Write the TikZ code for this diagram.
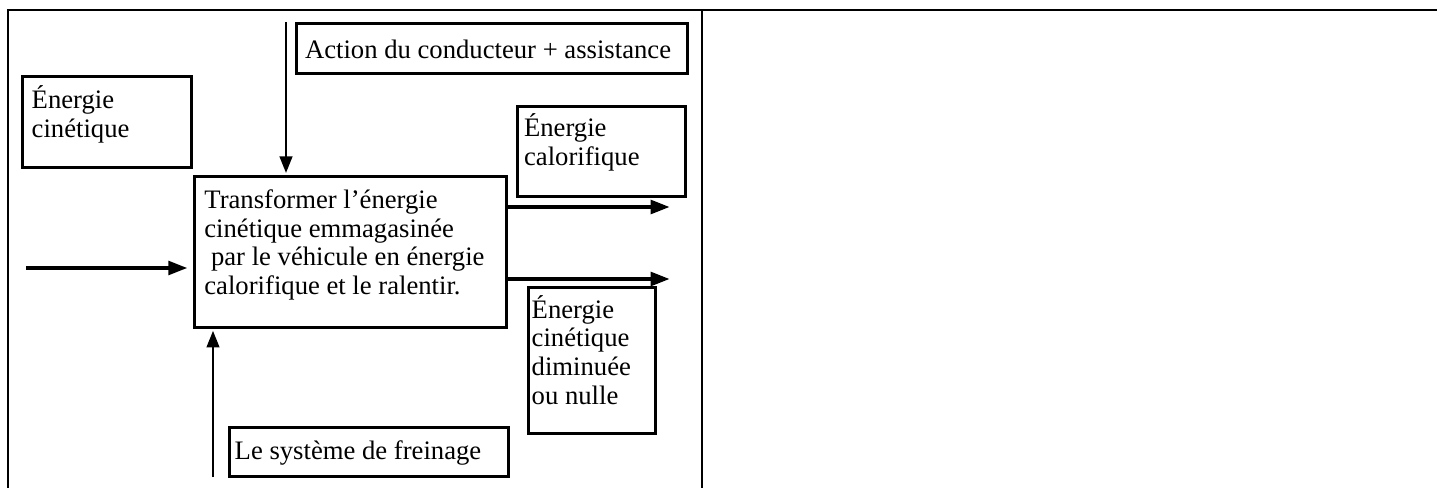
\documentclass[tikz,border=0pt]{standalone}
\usepackage{fontspec}
\setmainfont{Liberation Serif}
\usetikzlibrary{arrows.meta}
% \bx{width}{height}{first baseline}{left offset}{text}
\newcommand\bx[5]{\parbox[c][#2][t]{#1}{\leftskip=#4\relax\rightskip=0pt plus 1fil\parindent=0pt\rule{0pt}{#3}#5}}
\begin{document}
\begin{tikzpicture}[x=0.75pt,y=-0.75pt,
  box/.style={draw,line width=2.1pt,inner sep=0pt,anchor=north west},
  thinarrow/.style={line width=1.8pt,-{Triangle[length=12.5pt,width=9.5pt]}},
  thickarrow/.style={line width=3.2pt,-{Triangle[length=14.5pt,width=10pt]}},
  frame/.style={line width=2pt},
  every node/.style={font=\fontsize{20pt}{21.5pt}\selectfont}]
\useasboundingbox (0,0) rectangle (1437,488);
% frame
\draw[frame] (7,10) -- (1437,10);
\draw[frame] (8,10) -- (8,488);
\draw[line width=1.3pt] (702,10) -- (702,488);
% boxes
\node[box] (ec) at (21,75) {\bx{126.75pt}{68.25pt}{24pt}{7pt}{Énergie\\cinétique}};
\node[box] (act) at (295,22) {\bx{293.25pt}{37.5pt}{26pt}{6.5pt}{Action du conducteur + assistance}};
\node[box] (main) at (193,175) {\bx{234pt}{113.25pt}{24pt}{7.5pt}{Transformer l’énergie\\cinétique emmagasinée\\\hspace*{0.25em}par le véhicule en énergie\\calorifique et le ralentir.}};
\node[box] (cal) at (516,105) {\bx{126pt}{67.5pt}{22.5pt}{5pt}{Énergie\\calorifique}};
\node[box] (dim) at (527,286) {\bx{95.25pt}{109.5pt}{23pt}{2.5pt}{Énergie\\cinétique\\diminuée\\ou nulle}};
\node[box] (frein) at (228,426) {\bx{209.25pt}{36.75pt}{24pt}{4pt}{Le système de freinage}};
% connectors
\coordinate (dtop) at (286,22);
\draw[thinarrow,shorten >=1.5pt] (dtop) -- (dtop |- main.north);
\coordinate (ubot) at (213,477);
\draw[thinarrow,shorten >=1.5pt] (ubot) -- (ubot |- main.south);
\coordinate (lin) at (26,268);
\draw[thickarrow,shorten >=4pt] (lin) -- (lin -| main.west);
\coordinate (o1) at (670,207);
\coordinate (o2) at (670,279);
\draw[thickarrow] (main.east |- o1) -- (o1);
\draw[thickarrow] (main.east |- o2) -- (o2);
\end{tikzpicture}
\end{document}
